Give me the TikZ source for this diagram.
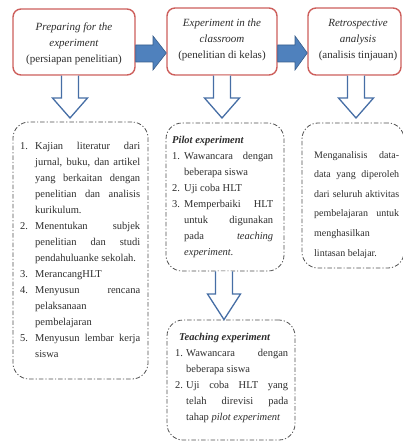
\documentclass[tikz,border=0pt]{standalone}
\usepackage{fontspec}
\setmainfont{Liberation Serif}
\definecolor{boxred}{RGB}{205,95,92}
\definecolor{arrblue}{RGB}{79,129,189}
\definecolor{arrdark}{RGB}{56,93,138}
\definecolor{hollowc}{RGB}{70,110,165}
\definecolor{txt}{RGB}{45,45,45}
\definecolor{dashc}{RGB}{80,80,80}
\begin{document}
\begin{tikzpicture}[x=1pt,y=-1pt,
  topbox/.style={draw=boxred, line width=1.4pt, rounded corners=8pt, fill=white, inner sep=0pt},
  dashbox/.style={draw=dashc, line width=0.8pt, rounded corners=16pt, dash pattern=on 4.5pt off 2pt on 1.2pt off 2pt},
  toptext/.style={align=center, font=\fontsize{11}{16}\selectfont, text=txt, inner sep=0pt},
  listtext/.style={align=justify, font=\fontsize{10.5}{16}\selectfont, text=txt, inner sep=0pt, anchor=north west},
  blockarrow/.style={fill=arrblue, draw=arrdark, line width=0.6pt, line join=miter},
  hollowarrow/.style={fill=white, draw=hollowc, line width=1.3pt, line join=miter}]
\useasboundingbox (0,0) rectangle (402,443);

% top boxes
\node[topbox, minimum width=122pt, minimum height=66pt] (b1) at (74,42) {};
\node[topbox, minimum width=110pt, minimum height=67pt] (b2) at (222,41.5) {};
\node[topbox, minimum width=93pt, minimum height=67pt] (b3) at (354.5,41.5) {};
\node[toptext] (t1) at (74,44) {\textit{Preparing for the}\\\textit{experiment}\\(persiapan penelitian)};
\node[toptext] (t2) at (222,40) {\textit{Experiment in the}\\\textit{classroom}\\(penelitian di kelas)};
\node[toptext] (t3) at (358,40) {\textit{Retrospective}\\\textit{analysis}\\(analisis tinjauan)};

% horizontal block arrows
\draw[blockarrow] (b1.east |- 0,45) -- (153,45) -- (153,36) -- (b2.west |- 0,53) -- (153,70) -- (153,62) -- (b1.east |- 0,62) -- cycle;
\draw[blockarrow] (b2.east |- 0,45) -- (295,45) -- (295,36) -- (b3.west |- 0,53) -- (295,70) -- (295,62) -- (b2.east |- 0,62) -- cycle;

% dashed boxes
\node[dashbox, minimum width=135pt, minimum height=257pt] (lbox) at (80.5,250.5) {};
\node[dashbox, minimum width=118pt, minimum height=148pt] (pbox) at (225,197) {};
\node[dashbox, minimum width=102pt, minimum height=145pt] (rbox) at (353,195.5) {};
\node[dashbox, minimum width=128pt, minimum height=120pt] (tbox) at (231,380) {};

% hollow down arrows
\draw[hollowarrow] (61.5,0 |- b1.south) -- (61.5,98) -- (52.5,98) -- (70,118) -- (87.5,98) -- (78.5,98) -- (78.5,0 |- b1.south);
\draw[hollowarrow] (213.5,0 |- b2.south) -- (213.5,98) -- (204.5,98) -- (222,118) -- (239.5,98) -- (230.5,98) -- (230.5,0 |- b2.south);
\draw[hollowarrow] (347.5,0 |- b3.south) -- (347.5,98) -- (338.5,98) -- (356,118) -- (373.5,98) -- (364.5,98) -- (364.5,0 |- b3.south);
\draw[hollowarrow] (215.5,0 |- pbox.south) -- (215.5,294) -- (207.5,294) -- (224,0 |- tbox.north) -- (240.5,294) -- (232.5,294) -- (232.5,0 |- pbox.south);

% texts
\node[listtext, text width=120pt] (ltxt) at (20,142.5) {%
\noindent\hangindent=15pt\hangafter=1\makebox[15pt][l]{1.}Kajian literatur dari\linebreak jurnal, buku, dan artikel\linebreak yang berkaitan dengan\linebreak penelitian dan analisis\linebreak kurikulum.\par
\noindent\hangindent=15pt\hangafter=1\makebox[15pt][l]{2.}Menentukan subjek\linebreak penelitian dan studi\linebreak pendahuluanke sekolah.\par
\noindent\hangindent=15pt\hangafter=1\makebox[15pt][l]{3.}MerancangHLT\par
\noindent\hangindent=15pt\hangafter=1\makebox[15pt][l]{4.}Menyusun rencana\linebreak pelaksanaan\hfil\break pembelajaran\par
\noindent\hangindent=15pt\hangafter=1\makebox[15pt][l]{5.}Menyusun lembar kerja\linebreak siswa\par};

\node[listtext, text width=101pt] (ptxt) at (172,136.5) {%
\noindent\textbf{\textit{Pilot experiment}}\par
\noindent\hangindent=12pt\hangafter=1\makebox[12pt][l]{1.}Wawancara dengan\linebreak beberapa siswa\par
\noindent\hangindent=12pt\hangafter=1\makebox[12pt][l]{2.}Uji coba HLT\par
\noindent\hangindent=12pt\hangafter=1\makebox[12pt][l]{3.}Memperbaiki HLT\linebreak untuk digunakan\linebreak pada \textit{teaching}\linebreak \textit{experiment.}\par};

\node[listtext, text width=85pt, font=\fontsize{10}{19.6}\selectfont] (rtxt) at (314,151) {%
\noindent Menganalisis data-\linebreak data yang diperoleh\linebreak dari seluruh aktivitas\linebreak pembelajaran untuk\linebreak menghasilkan\hfil\break lintasan belajar.\par};

\node[listtext, text width=113pt] (ttxt) at (175,333.5) {%
\noindent\hspace*{4pt}\textbf{\textit{Teaching experiment}}\par
\noindent\hangindent=11pt\hangafter=1\makebox[11pt][l]{1.}Wawancara dengan\linebreak beberapa siswa\par
\noindent\hangindent=11pt\hangafter=1\makebox[11pt][l]{2.}Uji coba HLT yang\linebreak telah direvisi pada\linebreak tahap \textit{pilot experiment}\par};
\end{tikzpicture}
\end{document}
